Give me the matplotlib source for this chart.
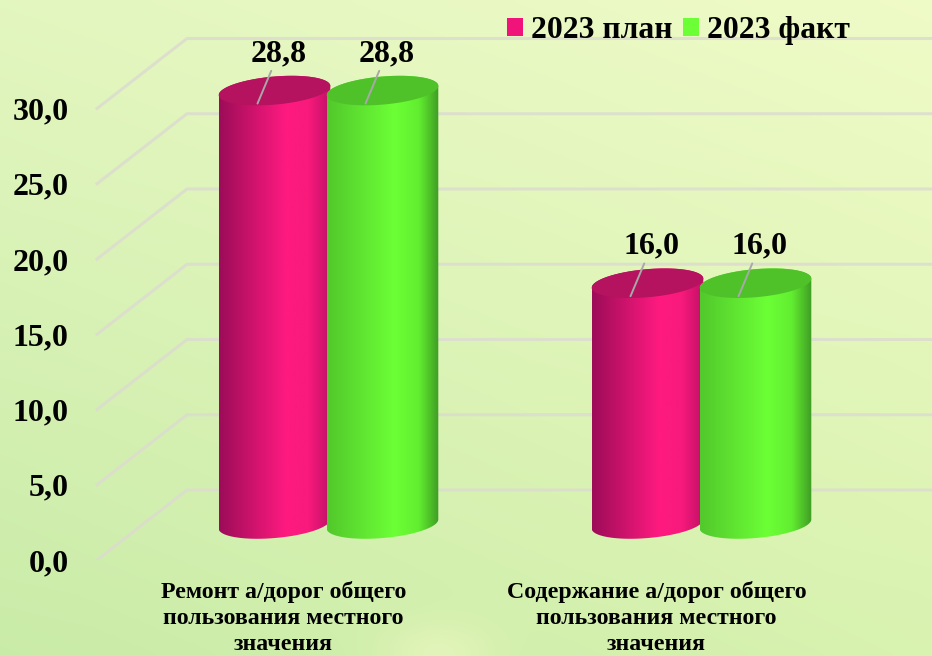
import numpy as np
import matplotlib
matplotlib.use("Agg")
import matplotlib.pyplot as plt
from matplotlib.colors import LinearSegmentedColormap
from matplotlib.patches import Patch, Polygon

categories = ["Ремонт а/дорог общего\nпользования местного\nзначения",
              "Содержание а/дорог общего\nпользования местного\nзначения"]
plan_2023 = [28.8, 16.0]
fact_2023 = [28.8, 16.0]
series_names = ["2023 план", "2023 факт"]
y_ticks = [0, 5, 10, 15, 20, 25, 30]

plt.rcParams['font.family'] = ['Liberation Serif', 'DejaVu Serif']
plt.rcParams['font.weight'] = 'bold'

W, H = 932, 656
PX_X = 373.0    # pixels per category
PX_Y = 15.05    # pixels per value unit
PINK = LinearSegmentedColormap.from_list("p", [(0, "#9c0c58"), (0.6, "#ff1a80"), (0.8, "#f81a7c"), (1, "#c01066")])
GREEN = LinearSegmentedColormap.from_list("g", [(0, "#52c82c"), (0.6, "#6cff36"), (0.82, "#62ee30"), (1, "#3f9c24")])


def fmt(v):
    return f"{v:.1f}".replace(".", ",")


fig = plt.figure(figsize=(W / 100, H / 100), dpi=100)

# background
bg = fig.add_axes([0, 0, 1, 1], zorder=0)
yy, xx = np.mgrid[0:1:164j, 0:1:233j]
top_left = np.array([0.89, 0.965, 0.75])
top_right = np.array([0.94, 0.985, 0.78])
bot_left = np.array([0.79, 0.925, 0.66])
bot_right = np.array([0.85, 0.95, 0.69])
img = ((1 - xx[..., None]) * ((1 - yy[..., None]) * top_left + yy[..., None] * bot_left)
       + xx[..., None] * ((1 - yy[..., None]) * top_right + yy[..., None] * bot_right))
spot = 0.6 * np.exp(-(((xx - 0.47) / 0.06) ** 2 + ((yy - 1.0) / 0.05) ** 2))[..., None]
img = img * (1 - spot) + np.array([0.93, 0.97, 0.76]) * spot
bg.imshow(img, extent=(0, 1, 0, 1), aspect='auto', interpolation='bilinear')
bg.axis('off')

ax = fig.add_axes([95 / W, (H - 560) / H, (W - 95) / W, 560 / H], zorder=1)
ax.patch.set_alpha(0)
xlim = ((95 - 283.5) / PX_X, (W - 283.5) / PX_X)
ylim = (0, 560 / PX_Y)

# depth of the back wall and of the cylinders, value / category units
wall_dx = 92 / PX_X
wall_dy = 70 / PX_Y
bar_dx = 45 / PX_X
bar_dy = 36 / PX_Y
bar_w = 112 / PX_X

for v in y_ticks:
    ax.plot([xlim[0] + 2 / PX_X, xlim[0] + wall_dx, xlim[1]],
            [v, v + wall_dy, v + wall_dy],
            color="#dcdccf", lw=2.2, alpha=0.85, zorder=1, solid_joinstyle='round')


def ellipse(cx, cy, t):
    a, b, tilt = 56, 14, np.radians(5)
    ex = a * np.cos(t)
    ey = b * np.sin(t)
    px = ex * np.cos(tilt) - ey * np.sin(tilt)
    py = ex * np.sin(tilt) + ey * np.cos(tilt)
    return cx + px / PX_X, cy + py / PX_Y


def cylinder(x, value, cmap, top_color, z):
    y0 = bar_dy
    y1 = bar_dy + value
    t_low = np.linspace(np.pi, 2 * np.pi, 60)
    t_up = np.linspace(0, np.pi, 60)
    bx, by = ellipse(x, y0, t_low)
    tx, ty = ellipse(x, y1, t_up)
    body = Polygon(np.r_[np.c_[bx, by], np.c_[tx, ty]], closed=True, transform=ax.transData,
                   fc='none', ec='none')
    ax.add_patch(body)
    grad = ax.imshow(np.linspace(0, 1, 256)[None, :], cmap=cmap, aspect='auto', zorder=z,
                     extent=(x - bar_w / 2, x + bar_w / 2, y0 - 2, y1 + 2))
    grad.set_clip_path(body)
    cap_t = np.linspace(0, 2 * np.pi, 120)
    cx, cy = ellipse(x, y1, cap_t)
    ax.add_patch(Polygon(np.c_[cx, cy], closed=True, fc=top_color, ec='none', zorder=z + 0.1))
    return x, y1


for i in range(len(categories)):
    for j, (vals, cmap, top_color) in enumerate([(plan_2023, PINK, "#b5125f"),
                                                 (fact_2023, GREEN, "#4fc22a")]):
        x = i + bar_dx + (j - 0.5) * 108 / PX_X
        cx, top = cylinder(x, vals[i], cmap, top_color, 3 + j)
        ax.annotate(fmt(vals[i]),
                    xy=(cx - 17 / PX_X, top - 13 / PX_Y),
                    xytext=(cx + 4 / PX_X, top + 37 / PX_Y),
                    ha='center', va='center', fontsize=23, color='black', zorder=8,
                    arrowprops=dict(arrowstyle='-', color="#a8a8a8", lw=1.4,
                                    shrinkA=0, shrinkB=0), annotation_clip=False)

ax.set_xlim(xlim)
ax.set_ylim(ylim)
ax.set_yticks(y_ticks, [fmt(v) for v in y_ticks], fontsize=23)
ax.set_xticks(range(len(categories)), categories, fontsize=17.2, linespacing=1.33)
ax.tick_params(axis='y', length=0, pad=19)
ax.tick_params(axis='x', length=0, pad=15)
for s in ax.spines.values():
    s.set_visible(False)

handles = [Patch(fc="#f0147a", ec='none'), Patch(fc="#6cff36", ec='none')]
ax.legend(handles, series_names, ncol=2, frameon=False, fontsize=22.8, loc='upper left',
          bbox_to_anchor=((507 - 95) / (W - 95), 1 - 16 / 560),
          handlelength=0.5, handleheight=0.5, handletextpad=0.25, columnspacing=0.35,
          borderpad=0, borderaxespad=0)

fig.savefig("out.png", dpi=100)
